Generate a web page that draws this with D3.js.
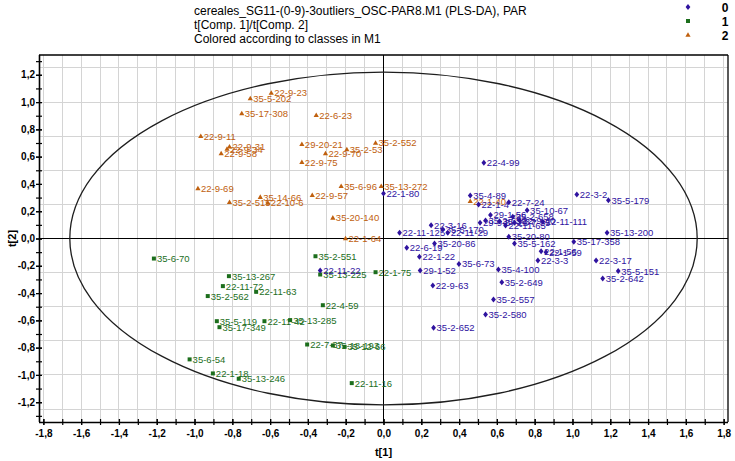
<!DOCTYPE html>
<html>
<head>
<meta charset="utf-8">
<script src="https://cdn.jsdelivr.net/npm/d3@7"></script>
<style>
  html, body { margin: 0; padding: 0; background: #ffffff; }
  svg { display: block; font-family: "Liberation Sans", Arial, sans-serif; }
</style>
</head>
<body>
<svg id="chart" width="735" height="461"></svg>
<script>
// ---------- Data ----------
const titleLines = [
  "cereales_SG11-(0-9)-3outliers_OSC-PAR8.M1 (PLS-DA), PAR",
  "t[Comp. 1]/t[Comp. 2]",
  "Colored according to classes in M1"
];
const classNames = ["0", "1", "2"];
const xTickValues = [-1.8,-1.6,-1.4,-1.2,-1.0,-0.8,-0.6,-0.4,-0.2,0,0.2,0.4,0.6,0.8,1.0,1.2,1.4,1.6,1.8];
const yTickValues = [-1.2,-1.0,-0.8,-0.6,-0.4,-0.2,0,0.2,0.4,0.6,0.8,1.0,1.2];
const xLabel = "t[1]";
const yLabel = "t[2]";
const ellipseRadii = [1.66, 1.22];

// class 0
const class0Labels = ["22-4-99","22-1-80","35-4-89","22-3-2","35-5-179","22-7-24","22-1-4","35-10-67","29-1-56","35-2-658",
  "22-11-111","22-11-65","29-9-5","35-2-659","35-3-37","22-7-35","22-9-40","22-3-16","35-5-170","22-11-29",
  "22-11-125","35-20-80","35-13-200","35-17-358","35-20-86","35-5-162","22-6-19","22-1-56","22-1-59","22-1-22",
  "22-3-3","22-3-17","35-6-73","35-4-100","29-1-52","35-5-151","35-2-642","35-2-649","22-9-63","35-2-557",
  "35-2-580","35-2-652","22-11-22"];
const class0T1 = [0.531,0.0,0.459,1.023,1.19,0.663,0.503,0.76,0.566,0.684,
  0.843,0.646,0.511,0.54,0.614,0.693,0.72,0.252,0.314,0.34,
  0.085,0.663,1.183,1.007,0.27,0.693,0.123,0.834,0.86,0.19,
  0.817,1.125,0.399,0.608,0.194,1.242,1.16,0.626,0.261,0.582,
  0.54,0.265,-0.335];
const class0T2 = [0.555,0.33,0.315,0.322,0.281,0.266,0.249,0.207,0.173,0.159,
  0.122,0.095,0.115,0.132,0.127,0.115,0.132,0.097,0.066,0.042,
  0.042,0.012,0.042,-0.024,-0.037,-0.037,-0.068,-0.093,-0.10,-0.134,
  -0.161,-0.161,-0.186,-0.227,-0.234,-0.239,-0.293,-0.32,-0.344,-0.447,
  -0.557,-0.654,-0.234];

// class 1
const class1Labels = ["35-6-70","35-2-551","35-13-267","22-11-72","22-11-63","35-2-562","35-13-225","22-1-75","22-4-59","35-5-119",
  "35-17-349","22-11-42","35-13-285","22-7-37","35-18-193","35-12-66","35-6-54","22-1-18","35-13-246","22-11-16"];
const class1T1 = [-1.215,-0.36,-0.818,-0.85,-0.674,-0.93,-0.335,-0.042,-0.321,-0.882,
  -0.868,-0.63,-0.494,-0.404,-0.268,-0.206,-1.026,-0.903,-0.766,-0.168];
const class1T2 = [-0.147,-0.13,-0.276,-0.349,-0.391,-0.422,-0.264,-0.247,-0.489,-0.606,
  -0.65,-0.606,-0.598,-0.777,-0.784,-0.794,-0.886,-0.989,-1.028,-1.06];

// class 2
const class2Labels = ["22-9-23","35-5-202","35-17-308","22-6-23","22-9-11","22-9-31","22-9-34","22-9-58","29-20-21","22-9-70",
  "35-2-53","35-2-552","22-9-75","22-9-69","35-2-515","35-14-66","22-10-6","22-9-57","35-6-96","35-20-140",
  "22-1-64","35-13-272","22-1-40"];
const class2T1 = [-0.594,-0.705,-0.75,-0.356,-0.967,-0.815,-0.828,-0.859,-0.432,-0.307,
  -0.194,-0.042,-0.432,-0.982,-0.815,-0.652,-0.612,-0.377,-0.224,-0.268,
  -0.201,-0.012,0.459];
const class2T2 = [1.067,1.026,0.916,0.903,0.75,0.672,0.656,0.623,0.691,0.623,
  0.652,0.70,0.559,0.366,0.266,0.303,0.261,0.317,0.383,0.151,
  0.0,0.383,0.273];

// ---------- Styles ----------
const colors = ["#2f139f", "#1c6e1c", "#c0600e"];

const svg = d3.select("#chart");
const pL = 39, pR = 728, pT = 55, pB = 422;

const x = d3.scaleLinear().domain([-1.823, 1.823]).range([pL, pR]);
const y = d3.scaleLinear().domain([1.345, -1.345]).range([pT, pB]);

const fmt = v => d3.format(".1f")(v).replace(".", ",").replace("\u2212", "-");

// grid
const g = svg.append("g");
const vGrid = d3.range(-18, 19).map(i => i / 10);
const hGrid = d3.range(-5, 6).map(i => i / 4);
g.selectAll("line.vg").data(vGrid.filter(v => Math.abs(v) > 1e-9)).enter().append("line")
  .attr("x1", d => x(d)).attr("x2", d => x(d)).attr("y1", pT).attr("y2", pB)
  .attr("stroke", "#d4d4d4").attr("stroke-width", 1).attr("shape-rendering", "crispEdges");
g.selectAll("line.hg").data(hGrid.filter(v => Math.abs(v) > 1e-9)).enter().append("line")
  .attr("x1", pL).attr("x2", pR).attr("y1", d => y(d)).attr("y2", d => y(d))
  .attr("stroke", "#d4d4d4").attr("stroke-width", 1).attr("shape-rendering", "crispEdges");
// zero lines
g.append("line").attr("x1", x(0)).attr("x2", x(0)).attr("y1", pT).attr("y2", pB)
  .attr("stroke", "#000").attr("stroke-width", 1).attr("shape-rendering", "crispEdges");
g.append("line").attr("x1", pL).attr("x2", pR).attr("y1", y(0)).attr("y2", y(0))
  .attr("stroke", "#000").attr("stroke-width", 1).attr("shape-rendering", "crispEdges");

// frame top/right
svg.append("line").attr("x1", pL).attr("x2", pR).attr("y1", pT).attr("y2", pT)
  .attr("stroke", "#000").attr("stroke-width", 1.3);
svg.append("line").attr("x1", pR).attr("x2", pR).attr("y1", pT).attr("y2", pB)
  .attr("stroke", "#000").attr("stroke-width", 1.3);

// ellipse
svg.append("ellipse")
  .attr("cx", x(0)).attr("cy", y(0))
  .attr("rx", x(ellipseRadii[0]) - x(0)).attr("ry", y(0) - y(ellipseRadii[1]))
  .attr("fill", "none").attr("stroke", "#1e1e1e").attr("stroke-width", 1.3);

// axes
const minorX = d3.range(-18, 19).map(i => i / 10);
const minorY = d3.range(-13, 14).map(i => i / 10);

const xAxisMinor = svg.append("g").attr("transform", `translate(0,${pB})`)
  .call(d3.axisBottom(x).tickValues(minorX).tickFormat("").tickSize(3));
xAxisMinor.selectAll(".tick line").attr("y1", -3).attr("y2", 3).attr("stroke-width", 1.2);
xAxisMinor.select(".domain").remove();

const xAxis = svg.append("g").attr("transform", `translate(0,${pB})`)
  .call(d3.axisBottom(x).tickValues(xTickValues).tickFormat(fmt).tickSize(3).tickSizeOuter(0));
xAxis.select(".domain").attr("d", `M${pL},0.5H${pR}`).attr("stroke-width", 1.6);
xAxis.selectAll(".tick line").attr("y1", -3).attr("y2", 3).attr("stroke-width", 1.2);
xAxis.selectAll(".tick text").attr("y", 8).attr("font-size", "10px").attr("font-weight", "bold")
  .attr("font-family", "Liberation Sans, Arial, sans-serif").attr("fill", "#000");

const yAxisMinor = svg.append("g").attr("transform", `translate(${pL},0)`)
  .call(d3.axisLeft(y).tickValues(minorY).tickFormat("").tickSize(3));
yAxisMinor.selectAll(".tick line").attr("x1", -3).attr("x2", 3).attr("stroke-width", 1.2);
yAxisMinor.select(".domain").remove();

const yAxis = svg.append("g").attr("transform", `translate(${pL},0)`)
  .call(d3.axisLeft(y).tickValues(yTickValues).tickFormat(fmt).tickSize(3).tickSizeOuter(0));
yAxis.select(".domain").attr("d", `M0.5,${pT}V${pB}`).attr("stroke-width", 1.6);
yAxis.selectAll(".tick line").attr("x1", -3).attr("x2", 3).attr("stroke-width", 1.2);
yAxis.selectAll(".tick text").attr("x", -4).attr("font-size", "10px").attr("font-weight", "bold")
  .attr("font-family", "Liberation Sans, Arial, sans-serif").attr("fill", "#000");

// axis titles
svg.append("text").attr("x", x(0)).attr("y", 456).attr("text-anchor", "middle")
  .attr("font-size", "11px").attr("font-weight", "bold").text(xLabel);
svg.append("text").attr("transform", `translate(16,${y(0)}) rotate(-90)`).attr("text-anchor", "middle")
  .attr("font-size", "11px").attr("font-weight", "bold").text(yLabel);

// title
svg.selectAll("text.title").data(titleLines).enter().append("text")
  .attr("x", 194).attr("y", (d, i) => 15 + i * 14)
  .attr("font-size", "12px").attr("fill", "#000").text(d => d);

// markers
const diamondPath = "M0,-3L2.4,0L0,3L-2.4,0Z";
const squarePath = "M-2,-2H2V2H-2Z";
const trianglePath = "M0,-2.8L2.6,1.8H-2.6Z";
const shapes = [diamondPath, squarePath, trianglePath];

const classes = [
  { labels: class2Labels, t1: class2T1, t2: class2T2, c: 2 },
  { labels: class1Labels, t1: class1T1, t2: class1T2, c: 1 },
  { labels: class0Labels, t1: class0T1, t2: class0T2, c: 0 }
];

classes.forEach(cl => {
  const pts = cl.labels.map((l, i) => ({ label: l, t1: cl.t1[i], t2: cl.t2[i] }));
  const grp = svg.append("g");
  const pg = grp.selectAll("g.pt").data(pts).enter().append("g")
    .attr("transform", d => `translate(${x(d.t1)},${y(d.t2)})`);
  pg.append("path").attr("d", shapes[cl.c]).attr("fill", colors[cl.c]);
  pg.append("text").attr("x", 3).attr("y", 3.5).attr("font-size", "9.5px")
    .attr("fill", colors[cl.c]).text(d => d.label);
});

// legend
const legend = svg.append("g");
classNames.forEach((n, i) => {
  legend.append("path").attr("d", shapes[i]).attr("fill", colors[i])
    .attr("transform", `translate(688,${7 + i * 14})`);
  legend.append("text").attr("x", 725).attr("y", 11.5 + i * 14).attr("text-anchor", "middle")
    .attr("font-size", "12px").attr("font-weight", "bold").attr("fill", "#000").text(n);
});
</script>
</body>
</html>
